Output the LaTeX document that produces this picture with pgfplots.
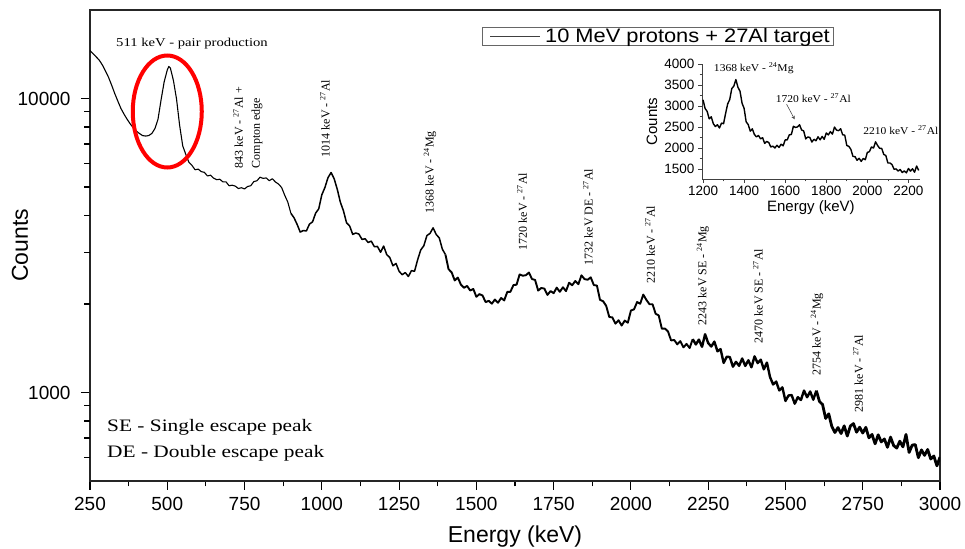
\documentclass[border=0pt]{standalone}
\usepackage{fontspec}
\setmainfont{Liberation Sans}
\newfontfamily\tms{Liberation Serif}
\usepackage{pgfplots}
\pgfplotsset{compat=1.18}
\usepackage{pgfplotstable}

\newcommand{\fs}[1]{\fontsize{#1}{#1}\selectfont}

% gamma-ray spectrum, energy (keV) vs counts per channel
\pgfplotstableread{
E C
250 14560
260 14200
270 13850
280 13500
290 13000
300 12400
310 11800
320 11100
330 10400
340 9800
350 9250
360 8850
370 8500
380 8200
390 7950
400 7750
410 7600
420 7480
430 7450
440 7480
450 7600
460 7900
470 8500
480 9900
490 11400
500 12500
505 12850
510 12700
520 11500
530 9950
540 8100
550 6900
560 6451
570 6063
580 5918
590 5722
600 5751
610 5639
620 5608
630 5451
640 5484
650 5358
660 5293
670 5312
680 5204
690 5206
700 5049
710 5070
720 5035
730 4940
740 4970
750 4925
760 5020
770 5050
780 5216
790 5247
800 5398
810 5349
820 5367
830 5252
840 5333
850 5199
860 5114
870 4980
880 4686
890 4440
900 4067
910 3931
920 3732
930 3513
940 3554
950 3544
960 3739
970 3804
980 4074
990 4214
1000 4703
1010 4980
1020 5380
1030 5600
1040 5330
1050 4910
1060 4437
1070 4149
1080 3777
1090 3685
1100 3450
1110 3488
1120 3458
1130 3316
1140 3333
1150 3237
1160 3272
1170 3132
1180 3139
1190 2999
1200 3149
1210 2945
1220 2876
1230 2698
1240 2747
1250 2584
1260 2515
1270 2558
1280 2481
1290 2597
1300 2584
1310 2828
1320 3053
1330 3156
1340 3417
1350 3476
1360 3631
1370 3448
1380 3355
1390 3071
1400 2945
1410 2627
1420 2562
1430 2405
1440 2460
1450 2327
1460 2270
1470 2304
1480 2223
1490 2250
1500 2116
1510 2161
1520 2137
1530 2029
1540 2050
1550 2005
1560 2071
1570 2019
1580 2096
1590 2057
1600 2198
1610 2199
1620 2319
1630 2326
1640 2522
1650 2495
1660 2505
1670 2558
1680 2432
1690 2413
1700 2221
1710 2267
1720 2256
1730 2147
1740 2213
1750 2177
1760 2273
1770 2200
1780 2280
1790 2212
1800 2362
1810 2316
1820 2395
1830 2335
1840 2503
1850 2430
1860 2418
1870 2464
1880 2319
1890 2311
1900 2066
1910 2044
1920 1971
1930 1806
1940 1801
1950 1714
1960 1761
1970 1689
1980 1756
1990 1727
2000 1900
2010 1918
2020 2030
2030 2004
2040 2153
2050 2065
2060 1997
2070 1995
2080 1853
2090 1828
2100 1649
2110 1650
2120 1613
2130 1503
2140 1509
2150 1458
2160 1495
2170 1424
2180 1463
2190 1416
2200 1519
2210 1457
2220 1513
2230 1430
2240 1578
2250 1473
2260 1433
2270 1489
2280 1381
2290 1405
2300 1261
2310 1323
2320 1320
2330 1224
2340 1271
2350 1232
2360 1305
2370 1231
2380 1287
2390 1218
2400 1327
2410 1259
2420 1293
2430 1199
2440 1264
2450 1129
2460 1065
2470 1089
2480 1016
2490 1041
2500 936
2510 977
2520 980
2530 916
2540 964
2550 943
2560 1015
2570 963
2580 1008
2590 945
2600 1014
2610 932
2620 910
2630 816
2640 846
2650 766
2660 731
2670 760
2680 725
2690 770
2700 711
2710 769
2720 784
2730 733
2740 762
2750 728
2760 761
2770 701
2780 720
2790 669
2800 718
2810 679
2820 695
2830 651
2840 705
2850 660
2860 647
2870 683
2880 653
2890 720
2900 625
2910 662
2920 665
2930 600
2940 638
2950 611
2960 640
2970 594
2980 608
2990 563
3000 603
}\spectrum

\begin{document}
\begin{tikzpicture}
\path[use as bounding box] (-90pt,-67pt) rectangle (875pt,481pt);

% main spectrum
\begin{axis}[
  at={(0pt,0pt)}, anchor=south west,
  scale only axis, width=850pt, height=471pt,
  xmin=250, xmax=3000, ymode=log, ymin=500, ymax=20000,
  xtick={250,500,...,3000}, minor x tick num=1,
  ytick={1000,10000}, yticklabels={1000,10000},
  % short unlabelled ticks for the in-between values of each decade
  extra y ticks={600,700,800,900,2000,3000,4000,5000,6000,7000,8000,9000},
  extra y tick labels={},
  extra y tick style={major tick length=5.5pt},
  xtick pos=left, ytick pos=left, tick align=outside,
  major tick length=9pt, minor tick length=5.5pt,
  axis line style={black!85, line width=1.3pt},
  every tick/.style={black, line width=1.1pt},
  /pgf/number format/assume math mode=true,
  /pgf/number format/set thousands separator={},
  tick label style={font=\fs{19}},
  xticklabel style={yshift=-4pt},
  yticklabel style={xshift=-7pt},
  xlabel={Energy (keV)}, ylabel={Counts},
  label style={font=\fs{23}},
  xlabel style={at={(axis description cs:0.5,-0.1189)}, anchor=center},
  ylabel style={at={(axis description cs:-0.0824,0.5)}, anchor=center},
  clip mode=individual,
  legend style={at={(axis description cs:0.461,0.964)}, anchor=north west,
    draw=black!60, line width=0.6pt, inner xsep=0pt, inner ysep=0pt,
    font=\fs{19.5}, nodes={inner ysep=1pt, inner xsep=3pt}},
  legend image code/.code={
    \path[draw=none] (0pt,-2pt) rectangle (60pt,2pt);
    \draw[black!75, line width=0.6pt] (8pt,0pt) -- (58pt,0pt);},
]
% the line gets heavier where the channel-to-channel scatter widens
\addplot[black, line width=1.1pt, line join=round] table[restrict x to domain=250:900] {\spectrum};
\addlegendentry{\scalebox{1.12}[1]{10 MeV protons + 27Al target}}
\addplot[black, line width=1.5pt, line join=round, forget plot] table[restrict x to domain=900:1400] {\spectrum};
\addplot[black, line width=1.9pt, line join=round, forget plot] table[restrict x to domain=1400:2200] {\spectrum};
\addplot[black, line width=2.4pt, line join=round, forget plot] table[restrict x to domain=2200:2600] {\spectrum};
\addplot[black, line width=2.8pt, line join=round, forget plot] table[restrict x to domain=2600:3000] {\spectrum};

\draw[red, line width=4pt] (axis cs:500,9030) ellipse [x radius=34.5pt, y radius=56pt];

\node[font=\tms\fs{12}, inner sep=0pt] at (axis cs:580,15380)
  {\scalebox{1.22}[1]{511 keV - pair production}};

\begin{scope}[every node/.style={rotate=90, anchor=west, inner sep=0pt, font=\tms\fs{12}}]
\node[align=left, font=\tms\fontsize{12}{17}\selectfont] at (axis cs:761,5780)
  {843 keV - \textsuperscript{27}Al +\\Compton edge};
\node at (axis cs:1010,6300) {1014 keV - \textsuperscript{27}Al};
\node at (axis cs:1350,4065) {1368 keV - \textsuperscript{24}Mg};
\node at (axis cs:1648,3040) {1720 keV - \textsuperscript{27}Al};
\node at (axis cs:1861,2704) {1732 keV DE - \textsuperscript{27}Al};
\node at (axis cs:2062,2350) {2210 keV - \textsuperscript{27}Al};
\node at (axis cs:2233,1691) {2243 keV SE - \textsuperscript{24}Mg};
\node at (axis cs:2411,1468) {2470 keV SE - \textsuperscript{27}Al};
\node at (axis cs:2602,1143) {2754 keV - \textsuperscript{24}Mg};
\node at (axis cs:2735,855) {2981 keV - \textsuperscript{27}Al};
\end{scope}

\node[anchor=west, inner sep=0pt, font=\tms\fs{17.5}] at (axis description cs:0.02,0.1146)
  {\scalebox{1.22}[1]{SE - Single escape peak}};
\node[anchor=west, inner sep=0pt, font=\tms\fs{17.5}] at (axis description cs:0.02,0.0594)
  {\scalebox{1.22}[1]{DE - Double escape peak}};
\end{axis}

% zoomed view of the 1200-2250 keV region
\begin{axis}[
  at={(612pt,302pt)}, anchor=south west,
  scale only axis, width=217.7pt, height=115pt,
  xmin=1195, xmax=2255, ymin=1270, ymax=4000,
  axis x line*=bottom, axis y line*=left,
  axis line style={-, black!75, line width=0.8pt},
  xtick={1200,1400,...,2200}, ytick={1500,2000,...,4000},
  minor x tick num=1, minor y tick num=1,
  tick align=outside, major tick length=4pt, minor tick length=2.5pt,
  every tick/.style={black!75, line width=0.7pt},
  /pgf/number format/assume math mode=true,
  /pgf/number format/set thousands separator={},
  tick label style={font=\fs{13.5}},
  xlabel={Energy (keV)}, ylabel={Counts},
  label style={font=\fs{15}},
  xlabel style={at={(axis description cs:0.5,-0.252)}, anchor=center},
  ylabel style={at={(axis description cs:-0.23,0.5)}, anchor=center},
  clip mode=individual,
]
\addplot[black, line width=1.4pt, line join=round] table[restrict x to domain=1195:2255] {\spectrum};
\begin{scope}[every node/.style={inner sep=0pt, font=\tms\fs{10.5}}]
\node at (axis cs:1447,3898) {\scalebox{1.1}[1]{1368 keV - \textsuperscript{24}Mg}};
\node at (axis cs:1737,3193) {\scalebox{1.1}[1]{1720 keV - \textsuperscript{27}Al}};
\node at (axis cs:2163,2426) {\scalebox{1.1}[1]{2210 keV - \textsuperscript{27}Al}};
\end{scope}
\draw[-stealth, black!80, line width=0.5pt] (axis cs:1607,3043) -- (axis cs:1646,2687);
\end{axis}
\end{tikzpicture}
\end{document}
